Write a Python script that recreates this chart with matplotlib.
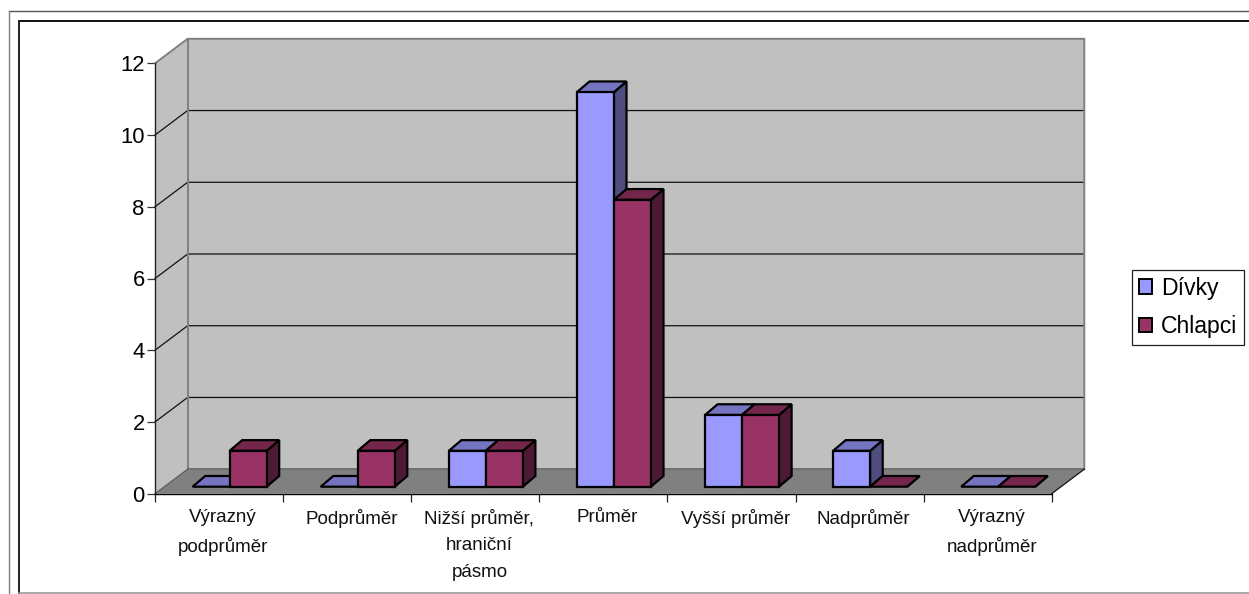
import matplotlib
matplotlib.use("Agg")
import matplotlib.pyplot as plt
from matplotlib.lines import Line2D
from matplotlib.patches import Polygon, Patch

plt.rcParams['font.family'] = ['Liberation Sans', 'DejaVu Sans']

categories = ["Výrazný\npodprůměr", "Podprůměr", "Nižší průměr,\nhraniční\npásmo", "Průměr",
              "Vyšší průměr", "Nadprůměr", "Výrazný\nnadprůměr"]
divky = [0, 0, 1, 11, 2, 1, 0]
chlapci = [1, 1, 1, 8, 2, 0, 0]
yticks = [0, 2, 4, 6, 8, 10, 12]

W, H = 1249, 594
# front plane of the box in pixels
LEFT, RIGHT, BOTTOM, TOP = 155, 1051.7, 493.7, 63.3

fig = plt.figure(figsize=(W/100, H/100), dpi=100, facecolor='white')
ax = fig.add_axes([LEFT/W, 1-BOTTOM/H, (RIGHT-LEFT)/W, (BOTTOM-TOP)/H])
ax.set_xlim(0, 7)
ax.set_ylim(0, 12)
ax.patch.set_visible(False)

px_x = 7/(RIGHT-LEFT)
px_y = 12/(BOTTOM-TOP)

# oblique depth of the box and of the bars
DX, DY = 32.6*px_x, 24.5*px_y
BAR_DX, BAR_DY = 12.6*px_x, 10.7*px_y
BAR_START, BAR_W = 37.6*px_x, 37*px_x
BAR_LIFT = 7*px_y

WALL = '#c0c0c0'
FLOOR = '#808080'
EDGE_W = 1.6


def poly(pts, face, edge='none', lw=0, z=1):
    ax.add_patch(Polygon(pts, closed=True, facecolor=face, edgecolor=edge, linewidth=lw,
                         joinstyle='miter', clip_on=False, zorder=z))


# walls and floor
poly([(0, 0), (DX, DY), (DX, 12+DY), (0, 12)], WALL, z=1)
poly([(DX, DY), (7+DX, DY), (7+DX, 12+DY), (DX, 12+DY)], WALL, z=1)
poly([(0, 0), (7, 0), (7+DX, DY), (DX, DY)], FLOOR, z=1)

# gridlines run across the side wall and the back wall
for v in yticks[1:-1]:
    ax.plot([0, DX, 7+DX], [v, v+DY, v+DY], color='#111111', lw=0.9, clip_on=False, zorder=2)

# outline of the box
ax.plot([0, DX, 7+DX, 7+DX], [12, 12+DY, 12+DY, DY], color='#808080', lw=1.4, clip_on=False, zorder=2)
ax.plot([DX, DX], [12+DY, DY], color='#808080', lw=1.4, clip_on=False, zorder=2)
ax.plot([DX, 7+DX], [DY, DY], color='#6e6e6e', lw=1.4, clip_on=False, zorder=2)
ax.plot([0, DX], [0, DY], color='#555555', lw=0.8, clip_on=False, zorder=2)
ax.plot([7, 7+DX], [0, DY], color='#111111', lw=0.9, clip_on=False, zorder=2)


def bar3d(x, v, front, top, side, z):
    b = BAR_LIFT
    poly([(x+BAR_W, b), (x+BAR_W+BAR_DX, b+BAR_DY), (x+BAR_W+BAR_DX, b+v+BAR_DY), (x+BAR_W, b+v)],
         side, 'black', EDGE_W, z)
    poly([(x, b+v), (x+BAR_W, b+v), (x+BAR_W+BAR_DX, b+v+BAR_DY), (x+BAR_DX, b+v+BAR_DY)],
         top, 'black', EDGE_W, z)
    if v > 0:
        poly([(x, b), (x+BAR_W, b), (x+BAR_W, b+v), (x, b+v)], front, 'black', EDGE_W, z)


for i in range(len(categories)):
    x = i + BAR_START
    bar3d(x, divky[i], '#9999ff', '#7474c0', '#4d4d80', 3+2*i)
    bar3d(x+BAR_W, chlapci[i], '#993366', '#74264d', '#4d1a33', 4+2*i)

# axes
ax.spines['top'].set_visible(False)
ax.spines['right'].set_visible(False)
ax.spines['left'].set_color('#222222')
ax.spines['bottom'].set_color('black')
ax.spines['left'].set_linewidth(1.0)
ax.spines['bottom'].set_linewidth(1.0)
ax.spines['left'].set_zorder(30)
ax.spines['bottom'].set_zorder(30)
ax.set_yticks(yticks)
ax.set_xticks(range(8))
ax.set_xticklabels([])
ax.tick_params(axis='y', length=5.8, width=0.9, color='#333333', labelsize=15.8, pad=1.5, labelcolor='black')
ax.tick_params(axis='x', length=5.8, width=0.9, color='#222222')

for i, label in enumerate(categories):
    ax.annotate(label, (i+0.5, 0), xytext=(3, -11), textcoords='offset points',
                ha='center', va='top', fontsize=13.5, linespacing=1.72, color='#111111',
                annotation_clip=False)

# legend box
handles = [Patch(facecolor='#9999ff', edgecolor='black', linewidth=1.4, label='Dívky'),
           Patch(facecolor='#993366', edgecolor='black', linewidth=1.4, label='Chlapci')]
fig.legend(handles=handles, loc='upper left', bbox_to_anchor=(1132.3/W, 1-269.7/H),
           bbox_transform=fig.transFigure, fontsize=16.6, frameon=True, fancybox=False,
           edgecolor='#222222', framealpha=1, borderaxespad=0, borderpad=0.3,
           handlelength=0.57, handleheight=0.57, handletextpad=0.37, labelspacing=0.68,
           labelcolor='black').get_frame().set_linewidth(0.9)

# double frame around the chart
for xs, ys, col, lw in [([8.5, W], [10.5, 10.5], '#555555', 1.0),
                        ([8.5, 8.5], [10.5, H], '#808080', 1.0),
                        ([19, W], [21, 21], '#111111', 1.4),
                        ([19, 19], [21, H], '#222222', 1.4),
                        ([19, W], [593, 593], '#999999', 1.2)]:
    fig.add_artist(Line2D([a/W for a in xs], [1-b/H for b in ys], color=col, lw=lw,
                          transform=fig.transFigure))

fig.savefig("out.png", dpi=100, facecolor='white')
